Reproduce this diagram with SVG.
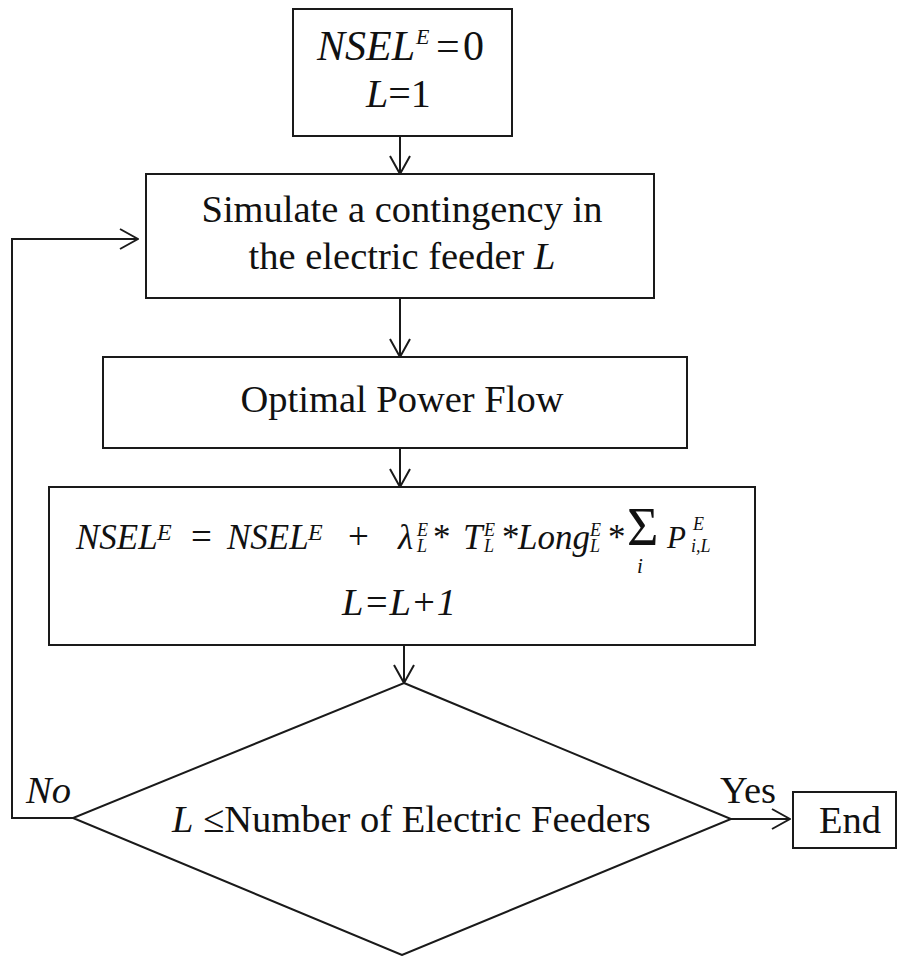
<svg xmlns="http://www.w3.org/2000/svg" width="898" height="956" viewBox="0 0 898 956">
<style>
.b{fill:#fff;stroke:#1a1a1a;stroke-width:2}
.c{fill:none;stroke:#1a1a1a;stroke-width:2}
text{font-family:"Liberation Serif","Times New Roman",serif;fill:#111;font-size:38.5px}
.i{font-style:italic}
.s{font-size:18px;font-style:italic}
.f{font-size:35px}
.m{text-anchor:middle}
</style>
<defs>
<marker id="ah" viewBox="0 0 20 22" refX="19" refY="11" markerWidth="20" markerHeight="22" markerUnits="userSpaceOnUse" orient="auto">
<path d="M1,1 L19,11 L1,21" fill="none" stroke="#1a1a1a" stroke-width="2"/>
</marker>
</defs>
<rect width="898" height="956" fill="#fff"/>
<g id="connectors">
<line class="c" x1="400" y1="136" x2="400" y2="174" marker-end="url(#ah)"/>
<line class="c" x1="400" y1="298" x2="400" y2="357" marker-end="url(#ah)"/>
<line class="c" x1="400" y1="448" x2="400" y2="487" marker-end="url(#ah)"/>
<line class="c" x1="404" y1="645" x2="404" y2="683" marker-end="url(#ah)"/>
<polyline class="c" points="73,818 12,818 12,239 138,239" marker-end="url(#ah)"/>
<line class="c" x1="731" y1="819" x2="790" y2="819" marker-end="url(#ah)"/>
<text class="i" x="26" y="803">No</text>
<text x="720" y="803">Yes</text>
</g>
<g id="init">
<rect class="b" x="293" y="9" width="219" height="127"/>
<text class="i" x="317" y="60" style="font-size:42px">NSEL</text>
<text class="i" x="416" y="44" style="font-size:22px">E</text>
<text x="436" y="60" style="font-size:42px">=</text>
<text x="463" y="60" style="font-size:42px">0</text>
<text y="107" style="font-size:40px"><tspan class="i" x="366">L</tspan><tspan>=1</tspan></text>
</g>
<g id="simulate">
<rect class="b" x="146" y="174" width="508" height="124"/>
<text class="m" x="402" y="222">Simulate a contingency in</text>
<text class="m" x="402" y="269">the electric feeder <tspan class="i">L</tspan></text>
</g>
<g id="opf">
<rect class="b" x="103" y="357" width="584" height="91"/>
<text class="m" x="402" y="412">Optimal Power Flow</text>
</g>
<g id="update">
<rect class="b" x="49" y="487" width="706" height="158"/>
<text class="f i" x="76" y="549">NSEL</text>
<text class="i" x="157" y="540" style="font-size:24px">E</text>
<text x="191" y="549" style="font-size:37px">=</text>
<text class="f i" x="227" y="549">NSEL</text>
<text class="i" x="308" y="540" style="font-size:24px">E</text>
<text x="348" y="549" style="font-size:37px">+</text>
<text class="f i" x="398" y="549">λ</text>
<text class="s" x="417" y="536">E</text><text class="s" x="417" y="552">L</text>
<text class="f" x="433" y="549">*</text>
<text class="f i" x="463" y="549">T</text>
<text class="s" x="484" y="536">E</text><text class="s" x="484" y="552">L</text>
<text class="f" x="502" y="549">*</text>
<text class="f i" x="518" y="549">Long</text>
<text class="s" x="590" y="536">E</text><text class="s" x="590" y="552">L</text>
<text class="f" x="608" y="549">*</text>
<text x="627" y="545" style="font-size:54px">Σ</text>
<text class="i" x="637" y="573" style="font-size:21px">i</text>
<text class="i" x="667" y="548" style="font-size:31px">P</text>
<text class="s" x="693" y="530">E</text>
<text class="s" x="691" y="552">i,L</text>
<text class="i" x="342" y="615">L=L+1</text>
</g>
<g id="decision">
<polygon class="b" points="404,683 731,819 402,955 73,818"/>
<text x="172" y="832"><tspan class="i">L</tspan> ≤Number of Electric Feeders</text>
</g>
<g id="end">
<rect class="b" x="793" y="792" width="103" height="56"/>
<text x="819" y="833">End</text>
</g>
</svg>
